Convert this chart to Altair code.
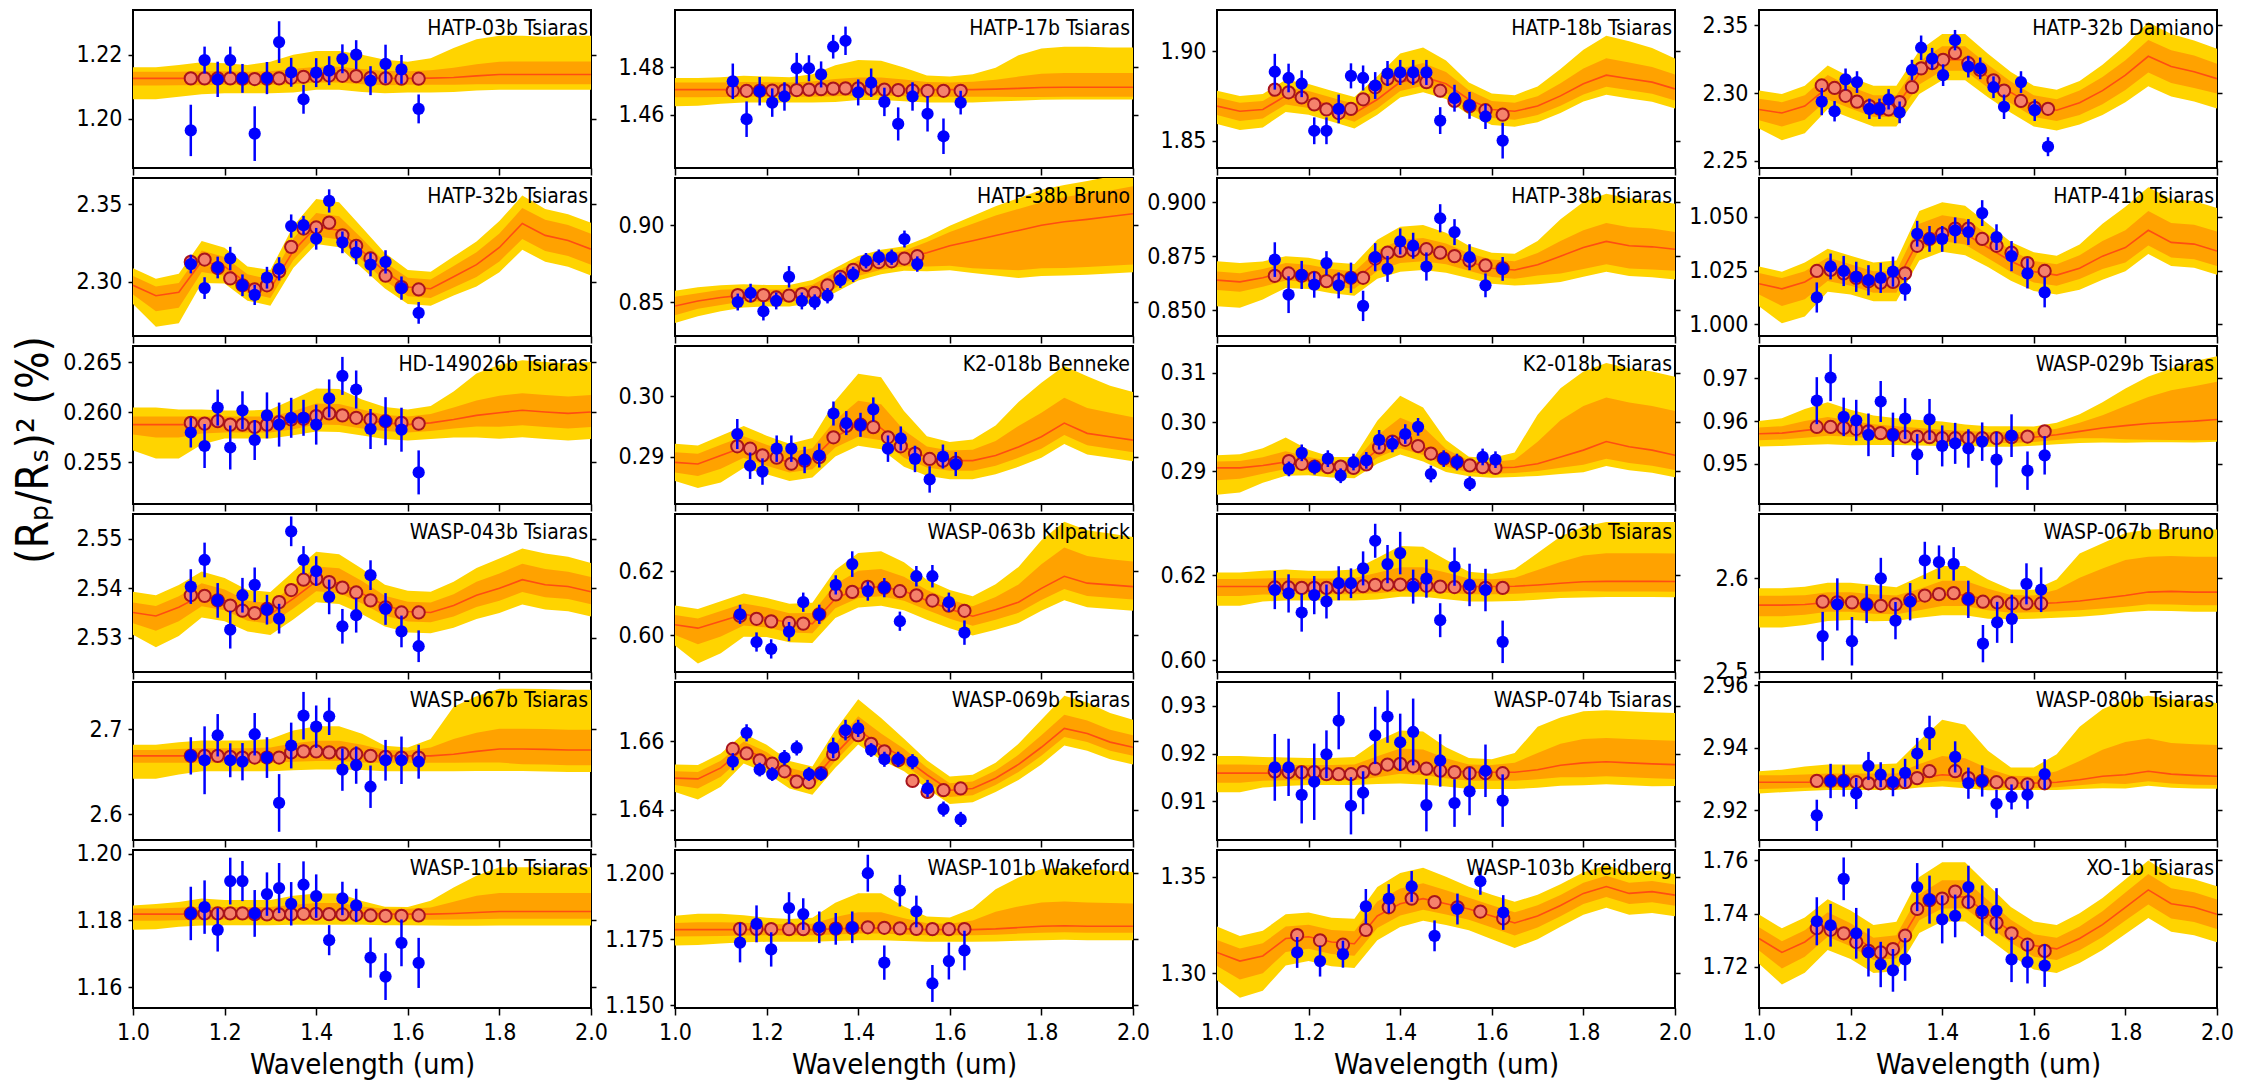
import altair as alt
import pandas as pd

FONT = "DejaVu Sans Condensed, Liberation Sans Narrow, DejaVu Sans, sans-serif"

# ---------------------------------------------------------------- panels
PANELS = [
    "HATP-03b Tsiaras", "HATP-17b Tsiaras", "HATP-18b Tsiaras", "HATP-32b Damiano",
    "HATP-32b Tsiaras", "HATP-38b Bruno", "HATP-38b Tsiaras", "HATP-41b Tsiaras",
    "HD-149026b Tsiaras", "K2-018b Benneke", "K2-018b Tsiaras", "WASP-029b Tsiaras",
    "WASP-043b Tsiaras", "WASP-063b Kilpatrick", "WASP-063b Tsiaras", "WASP-067b Bruno",
    "WASP-067b Tsiaras", "WASP-069b Tsiaras", "WASP-074b Tsiaras", "WASP-080b Tsiaras",
    "WASP-101b Tsiaras", "WASP-101b Wakeford", "WASP-103b Kreidberg", "XO-1b Tsiaras",
]

X_TICKS = [1.0, 1.2, 1.4, 1.6, 1.8, 2.0]

Y_RANGE = {
    "HATP-03b Tsiaras": [1.1847, 1.2339], "HATP-17b Tsiaras": [1.4375, 1.5042],
    "HATP-18b Tsiaras": [1.8347, 1.9230], "HATP-32b Damiano": [2.2448, 2.3612],
    "HATP-32b Tsiaras": [2.2651, 2.3670], "HATP-38b Bruno": [0.8279, 0.9307],
    "HATP-38b Tsiaras": [0.8381, 0.9111], "HATP-41b Tsiaras": [0.9946, 1.0680],
    "HD-149026b Tsiaras": [0.2508, 0.2666], "K2-018b Benneke": [0.2821, 0.3084],
    "K2-018b Tsiaras": [0.2833, 0.3155], "WASP-029b Tsiaras": [0.9406, 0.9776],
    "WASP-043b Tsiaras": [2.5231, 2.5550], "WASP-063b Kilpatrick": [0.5885, 0.6378],
    "WASP-063b Tsiaras": [0.5972, 0.6344], "WASP-067b Bruno": [2.4995, 2.6690],
    "WASP-067b Tsiaras": [2.5696, 2.7559], "WASP-069b Tsiaras": [1.6312, 1.6772],
    "WASP-074b Tsiaras": [0.9019, 0.9350], "WASP-080b Tsiaras": [2.9105, 2.9611],
    "WASP-101b Tsiaras": [1.1538, 1.2011], "WASP-101b Wakeford": [1.1489, 1.2088],
    "WASP-103b Kreidberg": [1.2820, 1.3639], "XO-1b Tsiaras": [1.7046, 1.7638],
}

Y_TICKS = {
    "HATP-03b Tsiaras": [1.20, 1.22], "HATP-17b Tsiaras": [1.46, 1.48],
    "HATP-18b Tsiaras": [1.85, 1.90], "HATP-32b Damiano": [2.25, 2.30, 2.35],
    "HATP-32b Tsiaras": [2.30, 2.35], "HATP-38b Bruno": [0.85, 0.90],
    "HATP-38b Tsiaras": [0.850, 0.875, 0.900], "HATP-41b Tsiaras": [1.000, 1.025, 1.050],
    "HD-149026b Tsiaras": [0.255, 0.260, 0.265], "K2-018b Benneke": [0.29, 0.30],
    "K2-018b Tsiaras": [0.29, 0.30, 0.31], "WASP-029b Tsiaras": [0.95, 0.96, 0.97],
    "WASP-043b Tsiaras": [2.53, 2.54, 2.55], "WASP-063b Kilpatrick": [0.60, 0.62],
    "WASP-063b Tsiaras": [0.60, 0.62], "WASP-067b Bruno": [2.5, 2.6],
    "WASP-067b Tsiaras": [2.6, 2.7], "WASP-069b Tsiaras": [1.64, 1.66],
    "WASP-074b Tsiaras": [0.91, 0.92, 0.93], "WASP-080b Tsiaras": [2.92, 2.94, 2.96],
    "WASP-101b Tsiaras": [1.16, 1.18, 1.20], "WASP-101b Wakeford": [1.150, 1.175, 1.200],
    "WASP-103b Kreidberg": [1.30, 1.35], "XO-1b Tsiaras": [1.72, 1.74, 1.76],
}

Y_FORMAT = {
    "HATP-38b Tsiaras": ".3f", "HATP-41b Tsiaras": ".3f", "HD-149026b Tsiaras": ".3f",
    "WASP-101b Wakeford": ".3f", "WASP-067b Bruno": ".1f", "WASP-067b Tsiaras": ".1f",
}

# ---------------------------------------------------------------- observed spectra
TSIARAS_WL = [1.1262, 1.1563, 1.1849, 1.2123, 1.2390, 1.2657, 1.2925, 1.3190, 1.3454,
              1.3723, 1.4000, 1.4283, 1.4572, 1.4873, 1.5186, 1.5514, 1.5862, 1.6237]
WASP080_WL = [1.1262, 1.1563, 1.1849, 1.2123, 1.2390, 1.2657, 1.2925, 1.3190, 1.3454,
              1.3723, 1.4283, 1.4572, 1.4873, 1.5186, 1.5514, 1.5862, 1.6237]
DAMIANO_WL = [1.137, 1.165, 1.189, 1.214, 1.241, 1.263, 1.283, 1.307, 1.334, 1.354,
              1.378, 1.402, 1.428, 1.457, 1.483, 1.512, 1.535, 1.572, 1.602, 1.631]
BRUNO38_WL = [1.137, 1.165, 1.193, 1.221, 1.249, 1.277, 1.305, 1.333, 1.361, 1.389,
              1.417, 1.445, 1.473, 1.501, 1.529]
BENNEKE_WL = [1.136, 1.164, 1.191, 1.222, 1.254, 1.283, 1.315, 1.346, 1.374, 1.405,
              1.433, 1.465, 1.493, 1.524, 1.556, 1.585, 1.613]
K2_TSIARAS_WL = [1.157, 1.185, 1.213, 1.242, 1.270, 1.298, 1.326, 1.354, 1.383, 1.411,
                 1.439, 1.467, 1.495, 1.524, 1.552, 1.580, 1.608]
WFC3_15_WL = [1.142, 1.178, 1.210, 1.249, 1.280, 1.315, 1.351, 1.387, 1.421, 1.457,
              1.491, 1.527, 1.562, 1.598, 1.632]
BRUNO67_WL = [1.139, 1.171, 1.203, 1.235, 1.266, 1.298, 1.330, 1.362, 1.393, 1.425,
              1.457, 1.489, 1.520, 1.552, 1.584, 1.616]
KREIDBERG_WL = [1.175, 1.225, 1.275, 1.325, 1.375, 1.425, 1.475, 1.525, 1.575, 1.625]

WAVELENGTH = {
    "HATP-03b Tsiaras": TSIARAS_WL, "HATP-17b Tsiaras": TSIARAS_WL,
    "HATP-18b Tsiaras": TSIARAS_WL, "HATP-32b Damiano": DAMIANO_WL,
    "HATP-32b Tsiaras": TSIARAS_WL, "HATP-38b Bruno": BRUNO38_WL,
    "HATP-38b Tsiaras": TSIARAS_WL, "HATP-41b Tsiaras": TSIARAS_WL,
    "HD-149026b Tsiaras": TSIARAS_WL, "K2-018b Benneke": BENNEKE_WL,
    "K2-018b Tsiaras": K2_TSIARAS_WL, "WASP-029b Tsiaras": TSIARAS_WL,
    "WASP-043b Tsiaras": TSIARAS_WL, "WASP-063b Kilpatrick": WFC3_15_WL,
    "WASP-063b Tsiaras": TSIARAS_WL, "WASP-067b Bruno": BRUNO67_WL,
    "WASP-067b Tsiaras": TSIARAS_WL, "WASP-069b Tsiaras": TSIARAS_WL,
    "WASP-074b Tsiaras": TSIARAS_WL, "WASP-080b Tsiaras": WASP080_WL,
    "WASP-101b Tsiaras": TSIARAS_WL, "WASP-101b Wakeford": WFC3_15_WL,
    "WASP-103b Kreidberg": KREIDBERG_WL, "XO-1b Tsiaras": TSIARAS_WL,
}

DEPTH = {
    "HATP-03b Tsiaras": [1.1964, 1.2183, 1.2123, 1.2183, 1.2126, 1.1954, 1.2127, 1.2239, 1.2145,
                         1.2061, 1.2144, 1.2150, 1.2187, 1.2200, 1.2119, 1.2171, 1.2154, 1.2031],
    "HATP-17b Tsiaras": [1.4741, 1.4581, 1.4699, 1.4651, 1.4677, 1.4796, 1.4796, 1.4770, 1.4887,
                         1.4912, 1.4694, 1.4735, 1.4654, 1.4561, 1.4677, 1.4604, 1.4509, 1.4651],
    "HATP-18b Tsiaras": [1.8885, 1.8850, 1.8818, 1.8555, 1.8555, 1.8677, 1.8862, 1.8850, 1.8808,
                         1.8875, 1.8881, 1.8881, 1.8881, 1.8612, 1.8737, 1.8697, 1.8635, 1.8500],
    "HATP-32b Damiano": [2.2937, 2.2866, 2.3101, 2.3081, 2.2884, 2.2884, 2.2954, 2.2858, 2.3170, 2.3334,
                         2.3253, 2.3132, 2.3390, 2.3195, 2.3182, 2.3043, 2.2899, 2.3081, 2.2874, 2.2605],
    "HATP-32b Tsiaras": [2.3115, 2.2960, 2.3093, 2.3151, 2.2978, 2.2916, 2.3027, 2.3084, 2.3360,
                         2.3366, 2.3278, 2.3522, 2.3255, 2.3189, 2.3111, 2.3129, 2.2960, 2.2800],
    "HATP-38b Bruno": [0.8500, 0.8559, 0.8440, 0.8507, 0.8664, 0.8507, 0.8500, 0.8541, 0.8642,
                       0.8680, 0.8769, 0.8792, 0.8792, 0.8910, 0.8747],
    "HATP-38b Tsiaras": [0.8734, 0.8572, 0.8663, 0.8618, 0.8718, 0.8615, 0.8650, 0.8520, 0.8745,
                         0.8691, 0.8818, 0.8798, 0.8702, 0.8925, 0.8861, 0.8745, 0.8615, 0.8691],
    "HATP-41b Tsiaras": [1.0125, 1.0269, 1.0248, 1.0221, 1.0205, 1.0216, 1.0245, 1.0165, 1.0421,
                         1.0397, 1.0397, 1.0437, 1.0429, 1.0517, 1.0405, 1.0317, 1.0237, 1.0149],
    "HD-149026b Tsiaras": [0.25795, 0.25660, 0.26044, 0.25645, 0.26017, 0.25720, 0.25966, 0.25874, 0.25942,
                           0.25942, 0.25874, 0.26136, 0.26361, 0.26225, 0.25830, 0.25908, 0.25823, 0.25396],
    "K2-018b Benneke": [0.29375, 0.28847, 0.28750, 0.29131, 0.29131, 0.28943, 0.29017, 0.29716, 0.29557,
                        0.29528, 0.29784, 0.29131, 0.29301, 0.28960, 0.28619, 0.29000, 0.28875],
    "K2-018b Tsiaras": [0.29045, 0.29373, 0.29080, 0.29254, 0.28906, 0.29185, 0.29219, 0.29638, 0.29554,
                        0.29756, 0.29902, 0.28941, 0.29254, 0.29185, 0.28745, 0.29289, 0.29233],
    "WASP-029b Tsiaras": [0.9648, 0.9702, 0.9610, 0.9602, 0.9568, 0.9646, 0.9568, 0.9606, 0.9522,
                          0.9604, 0.9542, 0.9548, 0.9536, 0.9552, 0.9510, 0.9566, 0.9484, 0.9520],
    "WASP-043b Tsiaras": [2.54035, 2.54572, 2.53756, 2.53164, 2.53860, 2.54070, 2.53568, 2.53387, 2.55150,
                          2.54572, 2.54348, 2.53826, 2.53233, 2.53456, 2.54265, 2.53582, 2.53129, 2.52830],
    "WASP-063b Kilpatrick": [0.60650, 0.59786, 0.59570, 0.60110, 0.61028, 0.60650, 0.61568, 0.62216,
                             0.61374, 0.61482, 0.60434, 0.61838, 0.61838, 0.61028, 0.60078],
    "WASP-063b Tsiaras": [0.6165, 0.6157, 0.6112, 0.6153, 0.6138, 0.6181, 0.6181, 0.6216, 0.6281,
                          0.6226, 0.6252, 0.6173, 0.6192, 0.6094, 0.6220, 0.6177, 0.6165, 0.6043],
    "WASP-067b Bruno": [2.5380, 2.5720, 2.5325, 2.5720, 2.6000, 2.5546, 2.5749, 2.6192, 2.6173, 2.6155,
                        2.5775, 2.5299, 2.5528, 2.5565, 2.5941, 2.5878],
    "WASP-067b Tsiaras": [2.6688, 2.6636, 2.6931, 2.6636, 2.6619, 2.6943, 2.6668, 2.6133, 2.6810,
                          2.7162, 2.7032, 2.7154, 2.6526, 2.6579, 2.6324, 2.6636, 2.6636, 2.6619],
    "WASP-069b Tsiaras": [1.6540, 1.6624, 1.6517, 1.6504, 1.6552, 1.6580, 1.6504, 1.6504, 1.6580,
                          1.6632, 1.6637, 1.6574, 1.6547, 1.6547, 1.6540, 1.6462, 1.6402, 1.6372],
    "WASP-074b Tsiaras": [0.91712, 0.91712, 0.91137, 0.91410, 0.91986, 0.92690, 0.90907, 0.91180, 0.92381,
                          0.92777, 0.92237, 0.92453, 0.90921, 0.91856, 0.90965, 0.91209, 0.91640, 0.91015],
    "WASP-080b Tsiaras": [2.9184, 2.9294, 2.9294, 2.9254, 2.9342, 2.9314, 2.9290, 2.9320, 2.9382,
                          2.9448, 2.9371, 2.9287, 2.9294, 2.9221, 2.9243, 2.9250, 2.9316],
    "WASP-101b Tsiaras": [1.1821, 1.1840, 1.1772, 1.1918, 1.1918, 1.1821, 1.1879, 1.1897, 1.1850,
                          1.1907, 1.1873, 1.1741, 1.1866, 1.1845, 1.1689, 1.1632, 1.1733, 1.1673],
    "WASP-101b Wakeford": [1.1737, 1.1808, 1.1711, 1.1868, 1.1845, 1.1795, 1.1789, 1.1795, 1.2000,
                           1.1661, 1.1934, 1.1855, 1.1582, 1.1667, 1.1707],
    "WASP-103b Kreidberg": [1.3108, 1.3063, 1.3099, 1.3347, 1.3387, 1.3450, 1.3194, 1.3333, 1.3477, 1.3315],
    "XO-1b Tsiaras": [1.7371, 1.7356, 1.7530, 1.7326, 1.7254, 1.7209, 1.7187, 1.7228, 1.7499,
                      1.7452, 1.7378, 1.7391, 1.7499, 1.7410, 1.7410, 1.7228, 1.7218, 1.7205],
}

DEPTH_ERR = {
    "HATP-03b Tsiaras": [.0080, .0042, .0055, .0042, .0045, .0085, .0050, .0065, .0045,
                         .0045, .0045, .0045, .0045, .0045, .0045, .0060, .0045, .0045],
    "HATP-17b Tsiaras": [.0075, .0075, .0060, .0060, .0060, .0065, .0055, .0055, .0050,
                         .0060, .0055, .0060, .0060, .0070, .0060, .0075, .0075, .0050],
    "HATP-18b Tsiaras": [.0100, .0080, .0075, .0075, .0075, .0080, .0070, .0070, .0075,
                         .0070, .0070, .0070, .0070, .0075, .0075, .0075, .0070, .0100],
    "HATP-32b Damiano": [.0100, .0075, .0080, .0080, .0075, .0075, .0075, .0080, .0075, .0090,
                         .0080, .0080, .0075, .0080, .0080, .0080, .0090, .0080, .0080, .0070],
    "HATP-32b Tsiaras": [.0060, .0070, .0070, .0075, .0070, .0065, .0070, .0075, .0075,
                         .0060, .0070, .0075, .0070, .0075, .0075, .0075, .0075, .0070],
    "HATP-38b Bruno": [.0055, .0060, .0060, .0055, .0070, .0055, .0050, .0050, .0050,
                       .0050, .0050, .0050, .0050, .0055, .0050],
    "HATP-38b Tsiaras": [.0080, .0085, .0065, .0060, .0055, .0060, .0070, .0070, .0065,
                         .0060, .0060, .0060, .0065, .0065, .0060, .0060, .0055, .0055],
    "HATP-41b Tsiaras": [.0070, .0060, .0070, .0070, .0070, .0070, .0070, .0055, .0060,
                         .0060, .0060, .0060, .0060, .0060, .0060, .0070, .0070, .0070],
    "HD-149026b Tsiaras": [.0015, .0022, .0018, .0022, .0019, .0020, .0023, .0022, .0020,
                           .0018, .0020, .0019, .0019, .0019, .0020, .0024, .0022, .0022],
    "K2-018b Benneke": [.0025, .0022, .0022, .0022, .0022, .0022, .0020, .0020, .0020,
                        .0020, .0020, .0022, .0020, .0022, .0022, .0020, .0020],
    "K2-018b Tsiaras": [.0015, .0017, .0015, .0017, .0015, .0017, .0017, .0020, .0017,
                        .0020, .0018, .0017, .0017, .0017, .0015, .0017, .0017],
    "WASP-029b Tsiaras": [.0055, .0055, .0045, .0048, .0050, .0048, .0052, .0048, .0048,
                          .0048, .0048, .0048, .0045, .0045, .0065, .0050, .0045, .0045],
    "WASP-043b Tsiaras": [.0035, .0035, .0035, .0038, .0035, .0035, .0030, .0030, .0030,
                          .0028, .0030, .0035, .0035, .0035, .0030, .0032, .0032, .0032],
    "WASP-063b Kilpatrick": [.0030, .0030, .0030, .0030, .0030, .0030, .0030, .0040,
                             .0030, .0030, .0030, .0032, .0035, .0030, .0038],
    "WASP-063b Tsiaras": [.0045, .0045, .0045, .0045, .0040, .0040, .0035, .0040, .0040,
                          .0045, .0050, .0040, .0045, .0040, .0045, .0050, .0050, .0050],
    "WASP-067b Bruno": [.026, .028, .026, .020, .022, .020, .020, .020, .018, .018,
                        .020, .020, .022, .026, .022, .024],
    "WASP-067b Tsiaras": [.022, .040, .025, .020, .022, .025, .024, .034, .027,
                          .028, .025, .022, .025, .022, .025, .024, .028, .020],
    "WASP-069b Tsiaras": [.0025, .0025, .0020, .0020, .0022, .0022, .0020, .0020, .0030,
                          .0030, .0025, .0020, .0022, .0022, .0022, .0025, .0022, .0022],
    "WASP-074b Tsiaras": [.0070, .0060, .0060, .0080, .0050, .0060, .0060, .0045, .0060,
                          .0055, .0060, .0070, .0055, .0055, .0050, .0050, .0055, .0055],
    "WASP-080b Tsiaras": [.0050, .0055, .0050, .0050, .0045, .0040, .0045, .0045, .0050,
                          .0055, .0050, .0050, .0050, .0045, .0040, .0045, .0048],
    "WASP-101b Tsiaras": [.0080, .0080, .0065, .0070, .0060, .0070, .0065, .0075, .0065,
                          .0070, .0065, .0045, .0050, .0050, .0060, .0070, .0070, .0075],
    "WASP-101b Wakeford": [.0075, .0070, .0065, .0060, .0060, .0060, .0060, .0060, .0070,
                           .0065, .0060, .0060, .0070, .0070, .0075],
    "WASP-103b Kreidberg": [.0080, .0080, .0070, .0090, .0075, .0080, .0080, .0080, .0070, .0090],
    "XO-1b Tsiaras": [.0090, .0080, .0080, .0095, .0090, .0085, .0080, .0080, .0090,
                      .0090, .0090, .0080, .0080, .0095, .0085, .0085, .0080, .0080],
}

# best-fit model averaged into the observed bins
BINNED = {
    "HATP-03b Tsiaras": [1.2126, 1.2126, 1.2126, 1.2126, 1.2125, 1.2124, 1.2125, 1.2126, 1.2128,
                         1.2131, 1.2133, 1.2135, 1.2134, 1.2133, 1.2128, 1.2126, 1.2125, 1.2125],
    "HATP-17b Tsiaras": [1.4701, 1.4701, 1.4701, 1.4702, 1.4703, 1.4704, 1.4706, 1.4708, 1.4710,
                         1.4711, 1.4711, 1.4709, 1.4706, 1.4704, 1.4702, 1.4701, 1.4701, 1.4701],
    "HATP-18b Tsiaras": [1.8785, 1.8770, 1.8741, 1.8702, 1.8674, 1.8654, 1.8677, 1.8731, 1.8798,
                         1.8846, 1.8862, 1.8856, 1.8827, 1.8779, 1.8722, 1.8693, 1.8670, 1.8645],
    "HATP-32b Damiano": [2.3056, 2.3038, 2.2980, 2.2937, 2.2904, 2.2884, 2.2879, 2.2934, 2.3043, 2.3182,
                         2.3220, 2.3245, 2.3296, 2.3220, 2.3170, 2.3094, 2.3018, 2.2942, 2.2891, 2.2884],
    "HATP-32b Tsiaras": [2.3129, 2.3144, 2.3089, 2.3022, 2.2978, 2.2951, 2.2978, 2.3067, 2.3226,
                         2.3344, 2.3351, 2.3382, 2.3300, 2.3233, 2.3151, 2.3040, 2.2967, 2.2951],
    "HATP-38b Bruno": [0.8545, 0.8541, 0.8545, 0.8530, 0.8541, 0.8552, 0.8559, 0.8608, 0.8664,
                       0.8709, 0.8742, 0.8760, 0.8765, 0.8783, 0.8798],
    "HATP-38b Tsiaras": [0.8659, 0.8670, 0.8659, 0.8650, 0.8634, 0.8639, 0.8650, 0.8650, 0.8739,
                         0.8766, 0.8774, 0.8777, 0.8782, 0.8766, 0.8750, 0.8729, 0.8707, 0.8694],
    "HATP-41b Tsiaras": [1.0248, 1.0253, 1.0237, 1.0216, 1.0200, 1.0194, 1.0197, 1.0237, 1.0365,
                         1.0397, 1.0421, 1.0445, 1.0445, 1.0397, 1.0365, 1.0333, 1.0285, 1.0248],
    "HD-149026b Tsiaras": [0.25891, 0.25884, 0.25908, 0.25874, 0.25874, 0.25850, 0.25874, 0.25898, 0.25925,
                           0.25932, 0.25959, 0.25986, 0.25966, 0.25942, 0.25925, 0.25908, 0.25891, 0.25884],
    "K2-018b Benneke": [0.2917, 0.2913, 0.2902, 0.2898, 0.2888, 0.2893, 0.2899, 0.2932, 0.2951,
                        0.2953, 0.2949, 0.2932, 0.2917, 0.2905, 0.2896, 0.2893, 0.2890],
    "K2-018b Tsiaras": [0.29205, 0.29150, 0.29094, 0.29080, 0.29094, 0.29066, 0.29136, 0.29484, 0.29603,
                        0.29638, 0.29512, 0.29359, 0.29254, 0.29185, 0.29115, 0.29080, 0.29066],
    "WASP-029b Tsiaras": [0.95864, 0.95864, 0.95840, 0.95816, 0.95760, 0.95720, 0.95680, 0.95640, 0.95640,
                          0.95624, 0.95600, 0.95600, 0.95600, 0.95600, 0.95600, 0.95624, 0.95640, 0.95760],
    "WASP-043b Tsiaras": [2.53860, 2.53847, 2.53756, 2.53651, 2.53547, 2.53498, 2.53582, 2.53721, 2.53965,
                          2.54174, 2.54195, 2.54125, 2.54014, 2.53916, 2.53756, 2.53617, 2.53512, 2.53512],
    "WASP-063b Kilpatrick": [0.6060, 0.6051, 0.6043, 0.6038, 0.6036, 0.6065, 0.6127, 0.6135,
                             0.6151, 0.6148, 0.6137, 0.6124, 0.6108, 0.6092, 0.6076],
    "WASP-063b Tsiaras": [0.6171, 0.6171, 0.6170, 0.6170, 0.6170, 0.6171, 0.6172, 0.6174, 0.6177,
                          0.6178, 0.6178, 0.6177, 0.6175, 0.6173, 0.6172, 0.6171, 0.6170, 0.6170],
    "WASP-067b Bruno": [2.57491, 2.57417, 2.57417, 2.57196, 2.57048, 2.57196, 2.57675, 2.58155, 2.58303,
                        2.58413, 2.57786, 2.57491, 2.57417, 2.57306, 2.57306, 2.57306],
    "WASP-067b Tsiaras": [2.6688, 2.6688, 2.6688, 2.6676, 2.6668, 2.6668, 2.6668, 2.6668, 2.6729,
                          2.6741, 2.6741, 2.6729, 2.6717, 2.6708, 2.6688, 2.6676, 2.6668, 2.6668],
    "WASP-069b Tsiaras": [1.6577, 1.6564, 1.6544, 1.6534, 1.6512, 1.6482, 1.6480, 1.6507, 1.6562,
                          1.6627, 1.6617, 1.6592, 1.6570, 1.6544, 1.6484, 1.6452, 1.6457, 1.6462],
    "WASP-074b Tsiaras": [0.91626, 0.91612, 0.91612, 0.91612, 0.91569, 0.91569, 0.91569, 0.91612, 0.91684,
                          0.91770, 0.91784, 0.91734, 0.91684, 0.91641, 0.91612, 0.91590, 0.91590, 0.91590],
    "WASP-080b Tsiaras": [2.92944, 2.92944, 2.92944, 2.92900, 2.92867, 2.92867, 2.92867, 2.92900, 2.93032,
                          2.93252, 2.93252, 2.93032, 2.92944, 2.92900, 2.92867, 2.92834, 2.92867],
    "WASP-101b Tsiaras": [1.1821, 1.1821, 1.1821, 1.1821, 1.1821, 1.1819, 1.1818, 1.1818, 1.1819,
                          1.1820, 1.1820, 1.1819, 1.1818, 1.1817, 1.1815, 1.1814, 1.1814, 1.1815],
    "WASP-101b Wakeford": [1.1789, 1.1789, 1.1788, 1.1788, 1.1788, 1.1789, 1.1790, 1.1792, 1.1795,
                           1.1793, 1.1791, 1.1789, 1.1788, 1.1788, 1.1788],
    "WASP-103b Kreidberg": [1.3198, 1.3171, 1.3148, 1.3225, 1.3342, 1.3387, 1.3369, 1.3342, 1.3320, 1.3284],
    "XO-1b Tsiaras": [1.7345, 1.7339, 1.7326, 1.7293, 1.7260, 1.7254, 1.7267, 1.7317, 1.7417,
                      1.7450, 1.7456, 1.7482, 1.7443, 1.7404, 1.7365, 1.7326, 1.7283, 1.7260],
}

# ---------------------------------------------------------------- model spectra (median, 1 and 2 sigma)
MODEL_WL = [1.00, 1.05, 1.10, 1.15, 1.20, 1.25, 1.30, 1.35, 1.40, 1.45, 1.50,
            1.55, 1.60, 1.65, 1.70, 1.75, 1.80, 1.85, 1.90, 1.95, 2.00]

MODEL = {
    "HATP-03b Tsiaras": [1.2126, 1.2126, 1.2126, 1.2126, 1.2126, 1.2126, 1.2126, 1.2129, 1.2134, 1.2134, 1.2129,
                         1.2126, 1.2126, 1.2127, 1.2129, 1.2134, 1.2138, 1.2138, 1.2138, 1.2138, 1.2138],
    "HATP-17b Tsiaras": [1.4706, 1.4706, 1.4706, 1.4706, 1.4706, 1.4706, 1.4706, 1.4709, 1.4712, 1.4712, 1.4709,
                         1.4706, 1.4706, 1.4706, 1.4708, 1.4711, 1.4715, 1.4716, 1.4716, 1.4716, 1.4716],
    "HATP-18b Tsiaras": [1.8693, 1.8664, 1.8674, 1.8750, 1.8730, 1.8693, 1.8654, 1.8730, 1.8827, 1.8856, 1.8818,
                         1.8730, 1.8674, 1.8664, 1.8693, 1.8750, 1.8818, 1.8866, 1.8846, 1.8827, 1.8789],
    "HATP-32b Damiano": [2.2879, 2.2853, 2.2904, 2.3043, 2.2967, 2.2904, 2.2904, 2.3144, 2.3245, 2.3245, 2.3119,
                         2.3005, 2.2904, 2.2874, 2.2929, 2.3018, 2.3132, 2.3271, 2.3195, 2.3157, 2.3106],
    "HATP-32b Tsiaras": [2.2978, 2.2911, 2.2933, 2.3133, 2.3100, 2.2989, 2.2956, 2.3200, 2.3355, 2.3333, 2.3200,
                         2.3067, 2.2967, 2.2956, 2.3033, 2.3111, 2.3222, 2.3377, 2.3300, 2.3267, 2.3211],
    "HATP-38b Bruno": [0.8474, 0.8507, 0.8530, 0.8545, 0.8541, 0.8541, 0.8563, 0.8642, 0.8720, 0.8760, 0.8783,
                       0.8821, 0.8866, 0.8899, 0.8933, 0.8966, 0.9000, 0.9022, 0.9038, 0.9056, 0.9074],
    "HATP-38b Tsiaras": [0.8639, 0.8631, 0.8650, 0.8678, 0.8670, 0.8650, 0.8639, 0.8726, 0.8766, 0.8774, 0.8758,
                         0.8723, 0.8694, 0.8686, 0.8710, 0.8750, 0.8790, 0.8818, 0.8798, 0.8793, 0.8782],
    "HATP-41b Tsiaras": [1.0189, 1.0165, 1.0197, 1.0261, 1.0229, 1.0197, 1.0197, 1.0397, 1.0437, 1.0421, 1.0357,
                         1.0293, 1.0245, 1.0229, 1.0261, 1.0317, 1.0357, 1.0437, 1.0381, 1.0373, 1.0341],
    "HD-149026b Tsiaras": [0.25874, 0.25874, 0.25874, 0.25874, 0.25874, 0.25874, 0.25874, 0.25908, 0.25966,
                           0.25959, 0.25925, 0.25891, 0.25874, 0.25891, 0.25925, 0.25966, 0.25993, 0.26017,
                           0.26000, 0.25986, 0.26000],
    "K2-018b Benneke": [0.28903, 0.28875, 0.29017, 0.29159, 0.29017, 0.28903, 0.28960, 0.29329, 0.29528,
                        0.29471, 0.29159, 0.28989, 0.28932, 0.28932, 0.29017, 0.29159, 0.29329, 0.29557,
                        0.29386, 0.29329, 0.29273],
    "K2-018b Tsiaras": [0.29066, 0.29066, 0.29115, 0.29185, 0.29136, 0.29080, 0.29066, 0.29428, 0.29638,
                        0.29498, 0.29233, 0.29094, 0.29066, 0.29080, 0.29150, 0.29289, 0.29428, 0.29603,
                        0.29498, 0.29428, 0.29324],
    "WASP-029b Tsiaras": [0.95704, 0.95720, 0.95784, 0.95840, 0.95816, 0.95760, 0.95720, 0.95680, 0.95640,
                          0.95624, 0.95600, 0.95600, 0.95624, 0.95680, 0.95760, 0.95840, 0.95896, 0.95944,
                          0.95976, 0.96000, 0.96040],
    "WASP-043b Tsiaras": [2.53512, 2.53442, 2.53617, 2.53860, 2.53756, 2.53547, 2.53477, 2.53791, 2.54139,
                          2.54105, 2.53895, 2.53651, 2.53530, 2.53512, 2.53651, 2.53860, 2.54000, 2.54174,
                          2.54070, 2.54035, 2.53930],
    "WASP-063b Kilpatrick": [0.60326, 0.60218, 0.60434, 0.60650, 0.60542, 0.60380, 0.60358, 0.61136, 0.61460,
                             0.61514, 0.61374, 0.61082, 0.60812, 0.60590, 0.60790, 0.61028, 0.61460, 0.61838,
                             0.61622, 0.61568, 0.61514],
    "WASP-063b Tsiaras": [0.61732, 0.61732, 0.61732, 0.61732, 0.61732, 0.61732, 0.61732, 0.61755, 0.61789,
                          0.61789, 0.61765, 0.61732, 0.61732, 0.61740, 0.61770, 0.61810, 0.61845, 0.61854,
                          0.61854, 0.61854, 0.61850],
    "WASP-067b Bruno": [2.57122, 2.57122, 2.57196, 2.57417, 2.57417, 2.57196, 2.57048, 2.57565, 2.58229,
                        2.58229, 2.57675, 2.57306, 2.57269, 2.57380, 2.57565, 2.57860, 2.58155, 2.58524,
                        2.58598, 2.58524, 2.58524],
    "WASP-067b Tsiaras": [2.6688, 2.6688, 2.6688, 2.6688, 2.6688, 2.6688, 2.6688, 2.6708, 2.6717, 2.6717, 2.6700,
                          2.6688, 2.6688, 2.6688, 2.6708, 2.6741, 2.6769, 2.6769, 2.6765, 2.6757, 2.6757],
    "WASP-069b Tsiaras": [1.6492, 1.6490, 1.6522, 1.6577, 1.6547, 1.6502, 1.6484, 1.6562, 1.6632, 1.6587, 1.6552,
                          1.6502, 1.6457, 1.6462, 1.6492, 1.6532, 1.6582, 1.6637, 1.6622, 1.6597, 1.6582],
    "WASP-074b Tsiaras": [0.91590, 0.91590, 0.91590, 0.91590, 0.91590, 0.91590, 0.91590, 0.91662, 0.91756,
                          0.91734, 0.91662, 0.91610, 0.91610, 0.91610, 0.91662, 0.91756, 0.91806, 0.91828,
                          0.91806, 0.91784, 0.91770],
    "WASP-080b Tsiaras": [2.9290, 2.9290, 2.9290, 2.9290, 2.9290, 2.9290, 2.9290, 2.9303, 2.9314, 2.9309, 2.9294,
                          2.9287, 2.9287, 2.9290, 2.9298, 2.9309, 2.9314, 2.9325, 2.9316, 2.9312, 2.9309],
    "WASP-101b Tsiaras": [1.1819, 1.1819, 1.1819, 1.1819, 1.1819, 1.1819, 1.1819, 1.1822, 1.1824, 1.1824, 1.1822,
                          1.1819, 1.1819, 1.1819, 1.1821, 1.1824, 1.1827, 1.1827, 1.1827, 1.1827, 1.1827],
    "WASP-101b Wakeford": [1.1786, 1.1786, 1.1786, 1.1786, 1.1786, 1.1786, 1.1786, 1.1789, 1.1792, 1.1792, 1.1789,
                           1.1786, 1.1786, 1.1786, 1.1789, 1.1794, 1.1799, 1.1801, 1.1799, 1.1799, 1.1799],
    "WASP-103b Kreidberg": [1.3108, 1.3063, 1.3090, 1.3180, 1.3189, 1.3162, 1.3153, 1.3297, 1.3360, 1.3387, 1.3360,
                            1.3333, 1.3297, 1.3261, 1.3297, 1.3351, 1.3414, 1.3450, 1.3414, 1.3423, 1.3405],
    "XO-1b Tsiaras": [1.73064, 1.72544, 1.72934, 1.73584, 1.73194, 1.72674, 1.72739, 1.74169, 1.74624,
                      1.74624, 1.73974, 1.73324, 1.72804, 1.72674, 1.73064, 1.73584, 1.74234, 1.74884,
                      1.74364, 1.74234, 1.73974],
}

UP_2SIG = {
    "HATP-03b Tsiaras": [.0035, .0035, .0042, .0050, .0047, .0042, .0052, .0071, .0077, .0077, .0071,
                         .0058, .0052, .0062, .0092, .0114, .0121, .0121, .0118, .0121, .0121],
    "HATP-17b Tsiaras": [.0049, .0049, .0052, .0058, .0055, .0052, .0065, .0100, .0119, .0116, .0090,
                         .0060, .0055, .0065, .0090, .0140, .0165, .0171, .0171, .0168, .0168],
    "HATP-18b Tsiaras": [.0086, .0086, .0086, .0090, .0086, .0086, .0090, .0130, .0160, .0165, .0130,
                         .0095, .0090, .0090, .0110, .0150, .0190, .0220, .0210, .0190, .0170],
    "HATP-32b Damiano": [.014, .014, .015, .016, .015, .015, .015, .017, .019, .019, .017,
                         .015, .015, .015, .016, .019, .022, .025, .024, .023, .022],
    "HATP-32b Tsiaras": [.011, .011, .012, .013, .012, .011, .012, .016, .018, .018, .015,
                         .012, .011, .011, .013, .015, .017, .018, .017, .017, .017],
    "HATP-38b Bruno": [.010, .009, .008, .007, .007, .007, .008, .008, .008, .008, .008,
                       .010, .013, .016, .019, .021, .023, .024, .025, .026, .027],
    "HATP-38b Tsiaras": [.0087, .0087, .0075, .0072, .0072, .0072, .0075, .0100, .0120, .0120, .0100,
                         .0075, .0072, .0075, .0110, .0170, .0210, .0220, .0220, .0215, .0210],
    "HATP-41b Tsiaras": [.008, .008, .009, .009, .009, .009, .010, .013, .013, .013, .011,
                         .009, .009, .009, .011, .015, .019, .020, .020, .020, .020],
    "HD-149026b Tsiaras": [.0017, .0017, .0015, .0015, .0014, .0014, .0015, .0022, .0027, .0027, .0020,
                           .0016, .0015, .0017, .0028, .0042, .0048, .0050, .0050, .0050, .0050],
    "K2-018b Benneke": [.0031, .0031, .0033, .0035, .0033, .0031, .0035, .0060, .0085, .0085, .0060,
                        .0035, .0031, .0035, .0050, .0075, .0090, .0095, .0095, .0085, .0080],
    "K2-018b Tsiaras": [.0026, .0028, .0035, .0050, .0030, .0021, .0022, .0060, .0090, .0080, .0040,
                        .0020, .0020, .0030, .0100, .0140, .0160, .0160, .0160, .0160, .0160],
    "WASP-029b Tsiaras": [.0030, .0035, .0050, .0060, .0045, .0037, .0035, .0035, .0035, .0030, .0028,
                          .0028, .0025, .0028, .0040, .0060, .0087, .0110, .0126, .0140, .0148],
    "WASP-043b Tsiaras": [.0042, .0042, .0045, .0048, .0045, .0042, .0045, .0055, .0060, .0058, .0050,
                          .0042, .0042, .0042, .0048, .0055, .0060, .0063, .0063, .0060, .0058],
    "WASP-063b Kilpatrick": [.0060, .0060, .0062, .0065, .0062, .0060, .0065, .0090, .0110, .0110, .0090,
                             .0065, .0060, .0062, .0080, .0110, .0150, .0170, .0165, .0160, .0155],
    "WASP-063b Tsiaras": [.0033, .0033, .0037, .0040, .0037, .0037, .0040, .0065, .0090, .0088, .0060,
                          .0035, .0030, .0040, .0075, .0110, .0130, .0140, .0140, .0140, .0140],
    "WASP-067b Bruno": [.018, .018, .019, .021, .021, .021, .020, .026, .031, .031, .022,
                        .015, .015, .025, .051, .059, .067, .067, .067, .067, .067],
    "WASP-067b Tsiaras": [.013, .013, .016, .018, .018, .018, .020, .028, .032, .032, .025,
                          .012, .010, .020, .056, .065, .071, .071, .071, .071, .071],
    "WASP-069b Tsiaras": [.0040, .0040, .0042, .0045, .0042, .0040, .0042, .0070, .0090, .0080, .0055,
                          .0042, .0040, .0040, .0045, .0060, .0080, .0095, .0090, .0085, .0080],
    "WASP-074b Tsiaras": [.0036, .0036, .0034, .0033, .0032, .0032, .0034, .0060, .0073, .0073, .0047,
                          .0030, .0027, .0040, .0090, .0100, .0108, .0108, .0108, .0108, .0108],
    "WASP-080b Tsiaras": [.0035, .0040, .0050, .0057, .0057, .0057, .0060, .0120, .0176, .0165, .0097,
                          .0050, .0050, .0090, .0170, .0215, .0242, .0242, .0240, .0238, .0235],
    "WASP-101b Tsiaras": [.0026, .0030, .0036, .0047, .0042, .0042, .0042, .0052, .0057, .0057, .0036,
                          .0022, .0021, .0040, .0078, .0110, .0132, .0132, .0132, .0132, .0132],
    "WASP-101b Wakeford": [.0053, .0060, .0060, .0055, .0045, .0040, .0045, .0099, .0132, .0132, .0085,
                           .0050, .0046, .0080, .0150, .0190, .0217, .0220, .0217, .0210, .0205],
    "WASP-103b Kreidberg": [.0135, .0130, .0130, .0126, .0126, .0126, .0130, .0150, .0160, .0160, .0140,
                            .0115, .0110, .0110, .0110, .0110, .0110, .0110, .0110, .0110, .0110],
    "XO-1b Tsiaras": [.0090, .0090, .0092, .0095, .0092, .0090, .0095, .0120, .0130, .0130, .0110,
                      .0092, .0090, .0090, .0095, .0100, .0105, .0110, .0108, .0105, .0105],
}

DOWN_2SIG = {
    "HATP-03b Tsiaras": [.0065, .0065, .0057, .0049, .0046, .0046, .0046, .0047, .0043, .0043, .0045,
                         .0046, .0044, .0045, .0045, .0046, .0047, .0047, .0047, .0047, .0047],
    "HATP-17b Tsiaras": [.0070, .0068, .0060, .0055, .0055, .0055, .0055, .0055, .0050, .0050, .0052,
                         .0055, .0055, .0055, .0052, .0052, .0052, .0052, .0052, .0052, .0052],
    "HATP-18b Tsiaras": [.0100, .0105, .0100, .0090, .0086, .0086, .0086, .0086, .0086, .0086, .0086,
                         .0086, .0086, .0086, .0090, .0095, .0100, .0110, .0110, .0110, .0110],
    "HATP-32b Damiano": [.014, .020, .020, .016, .015, .015, .015, .015, .015, .015, .015,
                         .015, .015, .015, .016, .018, .020, .022, .022, .022, .022],
    "HATP-32b Tsiaras": [.012, .020, .020, .014, .011, .011, .011, .011, .011, .011, .011,
                         .011, .011, .011, .012, .014, .016, .017, .017, .017, .017],
    "HATP-38b Bruno": [.011, .010, .009, .008, .007, .007, .007, .008, .008, .008, .008,
                       .012, .016, .021, .026, .031, .033, .035, .036, .037, .038],
    "HATP-38b Tsiaras": [.0120, .0120, .0100, .0075, .0072, .0072, .0072, .0080, .0088, .0088, .0085,
                         .0075, .0072, .0072, .0090, .0120, .0135, .0140, .0140, .0140, .0140],
    "HATP-41b Tsiaras": [.0105, .0160, .0160, .0110, .0090, .0090, .0090, .0100, .0100, .0100, .0090,
                         .0090, .0090, .0090, .0100, .0110, .0110, .0110, .0110, .0110, .0110],
    "HD-149026b Tsiaras": [.0026, .0034, .0034, .0020, .0014, .0014, .0014, .0014, .0016, .0016, .0016,
                           .0016, .0016, .0016, .0018, .0022, .0026, .0027, .0027, .0027, .0027],
    "K2-018b Benneke": [.0031, .0040, .0045, .0035, .0031, .0031, .0031, .0033, .0035, .0035, .0033,
                        .0031, .0031, .0031, .0031, .0033, .0035, .0035, .0035, .0035, .0035],
    "K2-018b Tsiaras": [.0055, .0050, .0035, .0028, .0022, .0021, .0021, .0028, .0030, .0030, .0025,
                        .0020, .0020, .0020, .0025, .0035, .0045, .0050, .0048, .0046, .0045],
    "WASP-029b Tsiaras": [.0030, .0030, .0034, .0038, .0038, .0032, .0028, .0025, .0022, .0020, .0020,
                          .0020, .0020, .0022, .0027, .0034, .0040, .0044, .0047, .0050, .0052],
    "WASP-043b Tsiaras": [.0045, .0063, .0058, .0045, .0042, .0042, .0042, .0042, .0042, .0042, .0042,
                          .0042, .0042, .0042, .0045, .0048, .0050, .0050, .0050, .0050, .0050],
    "WASP-063b Kilpatrick": [.0065, .0110, .0100, .0070, .0060, .0060, .0060, .0060, .0060, .0060, .0060,
                             .0060, .0060, .0060, .0062, .0065, .0070, .0075, .0075, .0075, .0075],
    "WASP-063b Tsiaras": [.0045, .0045, .0035, .0033, .0033, .0033, .0033, .0033, .0030, .0030, .0033,
                          .0035, .0035, .0035, .0035, .0035, .0037, .0037, .0037, .0037, .0037],
    "WASP-067b Bruno": [.024, .024, .022, .020, .019, .018, .016, .018, .022, .022, .020,
                        .017, .016, .016, .017, .018, .018, .020, .021, .021, .021],
    "WASP-067b Tsiaras": [.027, .027, .022, .018, .018, .018, .018, .019, .019, .019, .018,
                          .018, .018, .018, .020, .023, .026, .026, .026, .026, .026],
    "WASP-069b Tsiaras": [.0040, .0060, .0055, .0042, .0040, .0040, .0040, .0040, .0042, .0042, .0040,
                          .0040, .0040, .0040, .0040, .0045, .0050, .0050, .0050, .0050, .0050],
    "WASP-074b Tsiaras": [.0040, .0040, .0030, .0027, .0025, .0025, .0025, .0030, .0038, .0038, .0035,
                          .0035, .0035, .0035, .0038, .0043, .0047, .0047, .0047, .0047, .0045],
    "WASP-080b Tsiaras": [.0036, .0032, .0028, .0025, .0025, .0025, .0025, .0030, .0038, .0038, .0030,
                          .0022, .0022, .0025, .0030, .0038, .0044, .0046, .0044, .0042, .0040],
    "WASP-101b Tsiaras": [.0047, .0045, .0038, .0034, .0033, .0033, .0033, .0035, .0037, .0037, .0035,
                          .0033, .0033, .0034, .0037, .0040, .0042, .0042, .0042, .0042, .0042],
    "WASP-101b Wakeford": [.0060, .0058, .0052, .0048, .0046, .0046, .0046, .0046, .0046, .0046, .0046,
                           .0046, .0046, .0046, .0048, .0050, .0053, .0053, .0053, .0053, .0053],
    "WASP-103b Kreidberg": [.0144, .0190, .0180, .0140, .0126, .0126, .0126, .0126, .0120, .0115, .0110,
                            .0110, .0120, .0130, .0120, .0110, .0110, .0110, .0110, .0110, .0110],
    "XO-1b Tsiaras": [.0095, .0120, .0115, .0095, .0090, .0090, .0090, .0090, .0092, .0092, .0090,
                      .0090, .0090, .0090, .0092, .0095, .0100, .0105, .0105, .0105, .0105],
}

UP_1SIG = {
    "HATP-03b Tsiaras": [.0021, .0021, .0021, .0022, .0022, .0021, .0022, .0026, .0028, .0028, .0026,
                         .0023, .0022, .0024, .0030, .0036, .0040, .0041, .0041, .0041, .0041],
    "HATP-17b Tsiaras": [.0030, .0030, .0030, .0032, .0031, .0030, .0034, .0042, .0045, .0045, .0040,
                         .0032, .0030, .0033, .0040, .0050, .0058, .0060, .0060, .0060, .0060],
    "HATP-18b Tsiaras": [.0048, .0048, .0048, .0048, .0048, .0048, .0050, .0065, .0075, .0078, .0065,
                         .0052, .0048, .0048, .0055, .0070, .0085, .0095, .0090, .0085, .0080],
    "HATP-32b Damiano": [.008, .008, .008, .009, .008, .008, .008, .009, .010, .010, .009,
                         .008, .008, .008, .009, .010, .011, .012, .012, .012, .011],
    "HATP-32b Tsiaras": [.006, .006, .006, .007, .006, .006, .006, .008, .009, .009, .008,
                         .006, .006, .006, .007, .008, .009, .010, .010, .010, .010],
    "HATP-38b Bruno": [.006, .005, .005, .004, .004, .004, .005, .005, .005, .005, .005,
                       .007, .009, .011, .013, .014, .015, .016, .017, .017, .018],
    "HATP-38b Tsiaras": [.0040, .0040, .0040, .0040, .0040, .0040, .0040, .0050, .0060, .0060, .0050,
                         .0040, .0040, .0040, .0055, .0070, .0080, .0085, .0085, .0085, .0080],
    "HATP-41b Tsiaras": [.005, .005, .005, .005, .005, .005, .005, .007, .007, .007, .006,
                         .005, .005, .005, .006, .007, .008, .009, .009, .009, .009],
    "HD-149026b Tsiaras": [.0008, .0008, .0008, .0008, .0008, .0008, .0008, .0010, .0012, .0012, .0010,
                           .0008, .0008, .0009, .0012, .0015, .0017, .0017, .0017, .0017, .0017],
    "K2-018b Benneke": [.0017, .0017, .0018, .0018, .0018, .0017, .0018, .0028, .0040, .0040, .0028,
                        .0018, .0017, .0018, .0024, .0035, .0040, .0042, .0042, .0040, .0038],
    "K2-018b Tsiaras": [.0013, .0014, .0017, .0022, .0015, .0012, .0012, .0030, .0045, .0040, .0022,
                        .0012, .0012, .0015, .0045, .0075, .0090, .0090, .0090, .0090, .0090],
    "WASP-029b Tsiaras": [.0015, .0016, .0022, .0026, .0020, .0017, .0016, .0016, .0016, .0015, .0014,
                          .0014, .0013, .0014, .0020, .0030, .0046, .0062, .0075, .0082, .0088],
    "WASP-043b Tsiaras": [.0020, .0020, .0022, .0024, .0022, .0020, .0022, .0026, .0030, .0030, .0025,
                          .0020, .0020, .0020, .0023, .0027, .0030, .0032, .0032, .0030, .0030],
    "WASP-063b Kilpatrick": [.0030, .0030, .0032, .0034, .0032, .0030, .0033, .0045, .0055, .0055, .0045,
                             .0033, .0030, .0031, .0040, .0055, .0075, .0090, .0085, .0080, .0078],
    "WASP-063b Tsiaras": [.0018, .0018, .0019, .0020, .0019, .0019, .0020, .0030, .0040, .0040, .0030,
                          .0019, .0017, .0020, .0035, .0050, .0062, .0066, .0066, .0066, .0066],
    "WASP-067b Bruno": [.010, .010, .010, .011, .011, .011, .011, .013, .015, .015, .012,
                        .009, .009, .014, .025, .032, .038, .038, .038, .038, .038],
    "WASP-067b Tsiaras": [.007, .007, .008, .009, .009, .009, .010, .013, .015, .015, .012,
                          .007, .006, .010, .018, .022, .024, .024, .024, .024, .024],
    "WASP-069b Tsiaras": [.0020, .0020, .0021, .0022, .0021, .0020, .0021, .0030, .0040, .0035, .0026,
                          .0021, .0020, .0020, .0022, .0028, .0035, .0040, .0038, .0036, .0035],
    "WASP-074b Tsiaras": [.0018, .0018, .0017, .0017, .0017, .0017, .0018, .0028, .0035, .0035, .0024,
                          .0016, .0015, .0020, .0035, .0045, .0050, .0050, .0050, .0050, .0050],
    "WASP-080b Tsiaras": [.0022, .0022, .0025, .0028, .0028, .0028, .0028, .0045, .0060, .0058, .0040,
                          .0024, .0022, .0035, .0060, .0085, .0105, .0105, .0100, .0100, .0100],
    "WASP-101b Tsiaras": [.0017, .0017, .0019, .0022, .0021, .0021, .0021, .0025, .0028, .0028, .0020,
                          .0016, .0016, .0020, .0035, .0050, .0055, .0055, .0055, .0055, .0055],
    "WASP-101b Wakeford": [.0025, .0028, .0028, .0026, .0022, .0020, .0022, .0045, .0060, .0060, .0040,
                           .0024, .0022, .0035, .0065, .0080, .0090, .0092, .0090, .0088, .0086],
    "WASP-103b Kreidberg": [.0065, .0065, .0065, .0062, .0062, .0062, .0065, .0075, .0080, .0080, .0070,
                            .0058, .0055, .0055, .0055, .0055, .0055, .0055, .0055, .0055, .0055],
    "XO-1b Tsiaras": [.0042, .0042, .0044, .0046, .0044, .0042, .0045, .0055, .0062, .0062, .0052,
                      .0044, .0042, .0042, .0045, .0050, .0055, .0060, .0058, .0056, .0055],
}

DOWN_1SIG = {
    "HATP-03b Tsiaras": [.0022, .0022, .0021, .0021, .0020, .0020, .0020, .0021, .0021, .0021, .0021,
                         .0021, .0020, .0021, .0023, .0026, .0030, .0030, .0030, .0030, .0030],
    "HATP-17b Tsiaras": [.0032, .0032, .0031, .0030, .0030, .0030, .0030, .0031, .0031, .0031, .0031,
                         .0030, .0030, .0030, .0032, .0036, .0040, .0040, .0040, .0040, .0040],
    "HATP-18b Tsiaras": [.0050, .0055, .0050, .0048, .0048, .0048, .0048, .0050, .0050, .0050, .0050,
                         .0048, .0048, .0048, .0050, .0055, .0060, .0065, .0065, .0065, .0065],
    "HATP-32b Damiano": [.008, .010, .010, .009, .008, .008, .008, .008, .008, .008, .008,
                         .008, .008, .008, .009, .010, .011, .012, .012, .012, .011],
    "HATP-32b Tsiaras": [.006, .010, .010, .007, .006, .006, .006, .006, .006, .006, .006,
                         .006, .006, .006, .007, .008, .009, .010, .010, .010, .010],
    "HATP-38b Bruno": [.006, .005, .005, .004, .004, .004, .004, .005, .005, .005, .005,
                       .009, .013, .018, .022, .026, .028, .030, .031, .032, .033],
    "HATP-38b Tsiaras": [.0045, .0045, .0042, .0040, .0040, .0040, .0040, .0045, .0048, .0048, .0045,
                         .0040, .0040, .0040, .0050, .0080, .0100, .0105, .0105, .0105, .0100],
    "HATP-41b Tsiaras": [.005, .008, .008, .006, .005, .005, .005, .005, .005, .005, .005,
                         .005, .005, .005, .005, .006, .007, .007, .007, .007, .007],
    "HD-149026b Tsiaras": [.0010, .0013, .0013, .0009, .0008, .0008, .0008, .0008, .0009, .0009, .0009,
                           .0008, .0008, .0008, .0009, .0011, .0014, .0015, .0015, .0015, .0015],
    "K2-018b Benneke": [.0017, .0020, .0022, .0018, .0017, .0017, .0017, .0018, .0020, .0020, .0018,
                        .0017, .0017, .0017, .0017, .0018, .0020, .0020, .0020, .0020, .0020],
    "K2-018b Tsiaras": [.0025, .0022, .0017, .0014, .0012, .0012, .0012, .0015, .0017, .0017, .0014,
                        .0012, .0012, .0012, .0015, .0022, .0030, .0035, .0033, .0032, .0030],
    "WASP-029b Tsiaras": [.0015, .0015, .0017, .0018, .0018, .0016, .0014, .0013, .0012, .0011, .0011,
                          .0011, .0011, .0012, .0016, .0024, .0032, .0038, .0042, .0045, .0048],
    "WASP-043b Tsiaras": [.0022, .0030, .0028, .0022, .0020, .0020, .0020, .0020, .0020, .0020, .0020,
                          .0020, .0020, .0020, .0022, .0024, .0025, .0025, .0025, .0025, .0025],
    "WASP-063b Kilpatrick": [.0032, .0050, .0048, .0035, .0030, .0030, .0030, .0030, .0030, .0030, .0030,
                             .0030, .0030, .0030, .0031, .0033, .0036, .0040, .0040, .0040, .0040],
    "WASP-063b Tsiaras": [.0022, .0022, .0019, .0018, .0018, .0018, .0018, .0018, .0017, .0017, .0018,
                          .0018, .0018, .0018, .0018, .0020, .0022, .0024, .0024, .0024, .0024],
    "WASP-067b Bruno": [.012, .012, .011, .010, .010, .010, .009, .010, .012, .012, .011,
                        .010, .009, .009, .010, .011, .012, .013, .014, .014, .014],
    "WASP-067b Tsiaras": [.008, .008, .008, .008, .008, .008, .008, .009, .009, .009, .009,
                          .008, .008, .008, .010, .013, .016, .018, .018, .018, .018],
    "WASP-069b Tsiaras": [.0020, .0028, .0026, .0021, .0020, .0020, .0020, .0020, .0021, .0021, .0020,
                          .0020, .0020, .0020, .0020, .0022, .0025, .0025, .0025, .0025, .0025],
    "WASP-074b Tsiaras": [.0020, .0020, .0016, .0015, .0015, .0015, .0015, .0016, .0018, .0018, .0018,
                          .0018, .0018, .0018, .0020, .0025, .0030, .0030, .0030, .0030, .0030],
    "WASP-080b Tsiaras": [.0022, .0020, .0018, .0016, .0016, .0016, .0016, .0018, .0020, .0020, .0018,
                          .0016, .0016, .0016, .0018, .0022, .0030, .0032, .0030, .0030, .0028],
    "WASP-101b Tsiaras": [.0020, .0020, .0018, .0017, .0016, .0016, .0016, .0017, .0018, .0018, .0017,
                          .0016, .0016, .0017, .0018, .0020, .0022, .0022, .0022, .0022, .0022],
    "WASP-101b Wakeford": [.0026, .0025, .0024, .0022, .0021, .0021, .0021, .0021, .0021, .0021, .0021,
                           .0021, .0021, .0021, .0022, .0023, .0025, .0025, .0025, .0025, .0025],
    "WASP-103b Kreidberg": [.0070, .0095, .0090, .0070, .0062, .0062, .0062, .0062, .0060, .0058, .0055,
                            .0055, .0060, .0065, .0060, .0055, .0055, .0055, .0055, .0055, .0055],
    "XO-1b Tsiaras": [.0045, .0060, .0055, .0045, .0042, .0042, .0042, .0042, .0044, .0044, .0042,
                      .0042, .0042, .0042, .0044, .0046, .0050, .0055, .0055, .0055, .0055],
}

# ---------------------------------------------------------------- drawing
GOLD = "#ffd400"
ORANGE = "#ffa200"
MODEL_LINE = "#ff4d12"
BLUE = "#0000ff"
BIN_FILL = "#f5826c"
BIN_EDGE = "#a8141c"

PANEL_W, PANEL_H = 458, 158
Y_TITLE = "(R\u209a/R\u209b)\u00b2   (%)"


def make_panel(idx, name):
    row = idx // 4
    bottom = row == 5
    xs = alt.Scale(domain=[1.0, 2.0], nice=False, zero=False)
    ys = alt.Scale(domain=Y_RANGE[name], nice=False, zero=False)

    mid = MODEL[name]
    model = pd.DataFrame({
        "wl": MODEL_WL,
        "mid": mid,
        "lo2": [m - d for m, d in zip(mid, DOWN_2SIG[name])],
        "hi2": [m + d for m, d in zip(mid, UP_2SIG[name])],
        "lo1": [m - d for m, d in zip(mid, DOWN_1SIG[name])],
        "hi1": [m + d for m, d in zip(mid, UP_1SIG[name])],
    })
    obs = pd.DataFrame({
        "wl": WAVELENGTH[name],
        "depth": DEPTH[name],
        "err": DEPTH_ERR[name],
        "binned": BINNED[name],
    })
    obs["lo"] = obs["depth"] - obs["err"]
    obs["hi"] = obs["depth"] + obs["err"]

    # the same x axis definition on every layer so the layers share one axis
    x_axis = alt.Axis(
        values=X_TICKS, format=".1f", labels=bottom,
        title="Wavelength  (um)" if bottom else "",
        tickSize=7, labelPadding=6, titlePadding=6,
        labelFlush=False, labelOverlap=False, domain=False, grid=False,
    )
    x_enc = alt.X("wl:Q", scale=xs, axis=x_axis)

    y_axis = alt.Axis(
        values=Y_TICKS[name], format=Y_FORMAT.get(name, ".2f"), title="",
        tickSize=5, labelPadding=6, labelOverlap=False, domain=False, grid=False,
    )
    y_right = alt.Axis(
        orient="right", values=Y_TICKS[name], labels=False, title="",
        tickSize=5, domain=False, grid=False,
    )

    base_m = alt.Chart(model)
    outer = base_m.mark_area(color=GOLD, clip=True).encode(
        x=x_enc, y=alt.Y("lo2:Q", scale=ys, axis=y_axis), y2="hi2:Q",
    )
    inner = base_m.mark_area(color=ORANGE, clip=True).encode(
        x=x_enc, y=alt.Y("lo1:Q", scale=ys, axis=None), y2="hi1:Q",
    )
    line = base_m.mark_line(color=MODEL_LINE, strokeWidth=1.6, clip=True).encode(
        x=x_enc, y=alt.Y("mid:Q", scale=ys, axis=None),
    )

    base_o = alt.Chart(obs)
    binned = base_o.mark_circle(
        size=150, color=BIN_FILL, opacity=1, stroke=BIN_EDGE, strokeWidth=2
    ).encode(x=x_enc, y=alt.Y("binned:Q", scale=ys, axis=y_right))
    bars = base_o.mark_rule(color=BLUE, strokeWidth=2.5).encode(
        x=x_enc, y=alt.Y("lo:Q", scale=ys, axis=None), y2="hi:Q",
    )
    dots = base_o.mark_circle(size=150, color=BLUE, opacity=1).encode(
        x=x_enc, y=alt.Y("depth:Q", scale=ys, axis=None),
    )
    label = alt.Chart(pd.DataFrame({"t": [name]})).mark_text(
        align="right", baseline="middle", font=FONT, fontSize=21, color="black"
    ).encode(x=alt.value(PANEL_W - 3), y=alt.value(19), text="t:N")

    layers = [outer, inner, line, binned, bars, dots, label]
    if idx == 8:
        ytitle = alt.Chart(pd.DataFrame({"t": [Y_TITLE]})).mark_text(
            angle=270, align="center", baseline="middle",
            font=FONT, fontSize=44, color="black",
        ).encode(x=alt.value(-98), y=alt.value(104), text="t:N")
        layers.append(ytitle)

    return alt.layer(*layers).properties(width=PANEL_W, height=PANEL_H).resolve_axis(y="independent")


panels = [make_panel(i, n) for i, n in enumerate(PANELS)]

chart = (
    alt.concat(*panels, columns=4, spacing={"row": 10, "column": 84}, bounds="flush")
    .properties(padding={"left": 12, "top": 9, "right": 4, "bottom": 1}, background="white")
    .configure_view(stroke="black", strokeWidth=2)
    .configure_axis(
        labelFont=FONT, labelFontSize=23, labelColor="black",
        titleFont=FONT, titleFontSize=29, titleFontWeight="normal", titleColor="black",
        tickColor="black", tickWidth=1.5,
    )
)

chart.save("out.html", embed_options={"renderer": "svg", "actions": False})
